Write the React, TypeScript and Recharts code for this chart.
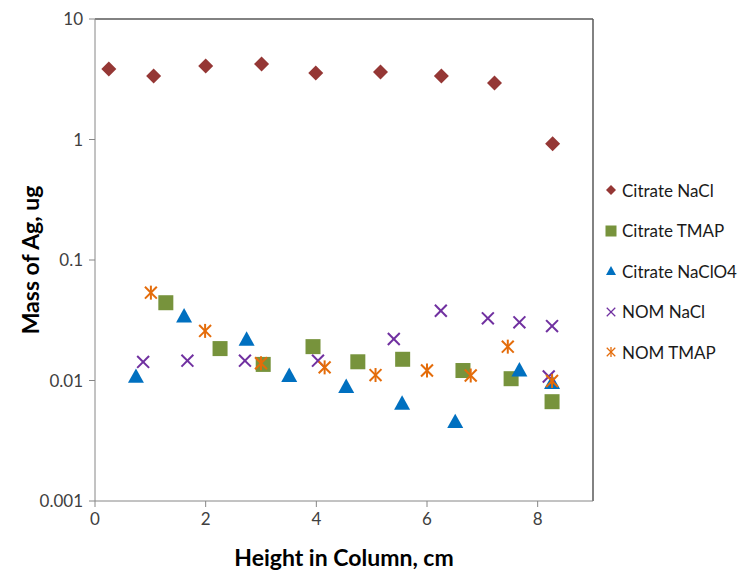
import React from "react";
import { ScatterChart, Scatter, XAxis, YAxis, Legend, ReferenceLine } from "recharts";

// values (x in cm, y in ug)
const citrateNaClX = [0.25, 1.06, 2.0, 3.01, 3.99, 5.16, 6.26, 7.22, 8.27];
const citrateNaClY = [3.85, 3.37, 4.07, 4.23, 3.56, 3.64, 3.37, 2.94, 0.92];

const citrateTmapX = [1.28, 2.26, 3.04, 3.94, 4.75, 5.56, 6.65, 7.52, 8.26];
const citrateTmapY = [0.0442, 0.0184, 0.0136, 0.0191, 0.0143, 0.015, 0.0121, 0.01035, 0.00667];

const citrateNaClO4X = [0.74, 1.61, 2.74, 3.51, 4.54, 5.55, 6.51, 7.67, 8.26];
const citrateNaClO4Y = [0.0108, 0.0343, 0.022, 0.011, 0.0089, 0.00647, 0.00455, 0.0122, 0.0096];

const nomNaClX = [0.87, 1.67, 2.71, 4.03, 5.4, 6.25, 7.1, 7.67, 8.26, 8.2];
const nomNaClY = [0.01425, 0.0146, 0.0146, 0.0146, 0.0221, 0.0379, 0.0328, 0.0304, 0.0283, 0.0108];

const nomTmapX = [1.01, 1.99, 3.0, 4.15, 5.07, 6.0, 6.79, 7.46, 8.26];
const nomTmapY = [0.0536, 0.0258, 0.0139, 0.01285, 0.0111, 0.0121, 0.011, 0.0191, 0.0099];

const xTicks = [0, 2, 4, 6, 8];
const yTicks = [0.001, 0.01, 0.1, 1, 10];

const pts = (xs: number[], ys: number[]) => xs.map((x, i) => ({ x, y: ys[i] }));

const series = [
  { name: "Citrate NaCl", data: pts(citrateNaClX, citrateNaClY), color: "#953735", kind: "diamond" },
  { name: "Citrate TMAP", data: pts(citrateTmapX, citrateTmapY), color: "#77933C", kind: "square" },
  { name: "Citrate NaClO4", data: pts(citrateNaClO4X, citrateNaClO4Y), color: "#0070C0", kind: "triangle" },
  { name: "NOM NaCl", data: pts(nomNaClX, nomNaClY), color: "#7030A0", kind: "x" },
  { name: "NOM TMAP", data: pts(nomTmapX, nomTmapY), color: "#E46C0A", kind: "star" },
];

function mark(kind: string, cx: number, cy: number, color: string, s: number) {
  const r = s / 2;
  if (kind === "diamond")
    return <polygon points={`${cx},${cy - r} ${cx + r},${cy} ${cx},${cy + r} ${cx - r},${cy}`} fill={color} />;
  if (kind === "square") return <rect x={cx - r} y={cy - r} width={s} height={s} fill={color} />;
  if (kind === "triangle")
    return <polygon points={`${cx},${cy - r} ${cx + r},${cy + r * 0.8} ${cx - r},${cy + r * 0.8}`} fill={color} />;
  const d = r * 0.85;
  const sw = s > 10 ? 2 : 1.3;
  return (
    <g stroke={color} strokeWidth={sw} fill="none">
      <line x1={cx - d} y1={cy - d} x2={cx + d} y2={cy + d} />
      <line x1={cx - d} y1={cy + d} x2={cx + d} y2={cy - d} />
      {kind === "star" && <line x1={cx} y1={cy - r} x2={cx} y2={cy + r} />}
    </g>
  );
}

const sizes: Record<string, number> = { diamond: 15, square: 15, triangle: 16, x: 14, star: 14 };

function LegendBox() {
  return (
    <div style={{ fontFamily: "Lato, 'Open Sans', sans-serif", fontSize: 17, color: "#1a1a1a" }}>
      {series.map((s) => (
        <div key={s.name} style={{ display: "flex", alignItems: "center", height: 40.5 }}>
          <svg width={14} height={14} style={{ marginRight: 4 }}>
            {mark(s.kind, 7, 7, s.color, s.kind === "square" ? 11 : 10)}
          </svg>
          <span>{s.name}</span>
        </div>
      ))}
    </div>
  );
}

export default function App() {
  const tick = { fill: "#404040", fontSize: 17, fontFamily: "Lato, 'Open Sans', sans-serif" };
  return (
    <div style={{ position: "absolute", left: 0, top: 0, background: "#fff" }}>
      <ScatterChart width={753} height={573} margin={{ top: 19, right: 160, left: 0, bottom: 0 }}>
        <XAxis
          type="number"
          dataKey="x"
          domain={[0, 9]}
          ticks={xTicks}
          height={72}
          stroke="#868686"
          tick={tick}
          tickSize={6}
          tickMargin={6}
          label={{
            value: "Height in Column, cm",
            position: "insideBottom",
            offset: 7,
            style: { fontSize: 23, fontWeight: 700, fill: "#000", fontFamily: "Lato, 'Open Sans', sans-serif" },
          }}
        />
        <YAxis
          type="number"
          dataKey="y"
          scale="log"
          domain={[0.001, 10]}
          allowDataOverflow
          ticks={yTicks}
          width={95}
          stroke="#868686"
          tick={tick}
          tickSize={6}
          tickMargin={6}
          tickFormatter={(v: number) => String(v)}
          label={{
            value: "Mass of Ag, ug",
            angle: -90,
            position: "insideLeft",
            offset: 31,
            style: { textAnchor: "middle", fontSize: 23, fontWeight: 700, fill: "#000", fontFamily: "Lato, 'Open Sans', sans-serif" },
          }}
        />
        <ReferenceLine y={10} stroke="#595959" strokeWidth={1.5} />
        <ReferenceLine x={9} stroke="#595959" strokeWidth={1.5} />
        <Legend
          layout="horizontal"
          verticalAlign="middle"
          align="center"
          content={() => <LegendBox />}
          wrapperStyle={{ left: 604, top: 170, width: 150, height: 210 }}
        />
        {series.map((s) => (
          <Scatter
            key={s.name}
            name={s.name}
            data={s.data}
            isAnimationActive={false}
            shape={(p: any) => mark(s.kind, p.cx, p.cy, s.color, sizes[s.kind])}
          />
        ))}
      </ScatterChart>
    </div>
  );
}
